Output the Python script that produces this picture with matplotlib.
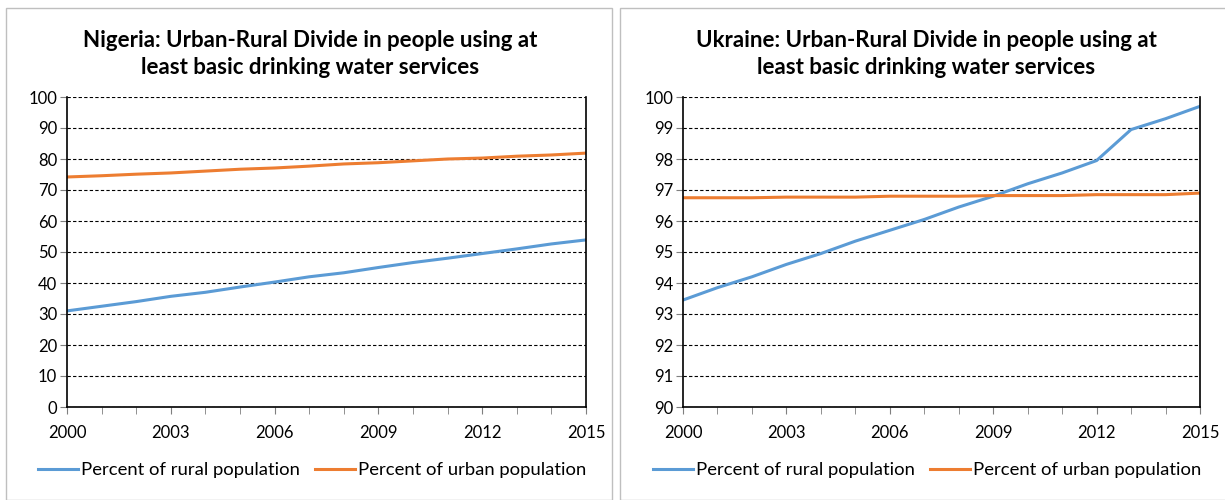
import matplotlib.pyplot as plt
from matplotlib.patches import Rectangle
from matplotlib.ticker import MultipleLocator

years = list(range(2000, 2016))

nigeria_rural = [31.0, 32.5, 34.0, 35.7, 37.0, 38.7, 40.3, 42.0, 43.3, 45.0, 46.6, 48.0, 49.5, 51.0, 52.6, 53.9]
nigeria_urban = [74.2, 74.6, 75.1, 75.5, 76.1, 76.7, 77.1, 77.7, 78.4, 78.8, 79.4, 80.0, 80.3, 80.9, 81.3, 81.9]

ukraine_rural = [93.45, 93.85, 94.2, 94.6, 94.95, 95.35, 95.7, 96.05, 96.45, 96.8, 97.2, 97.55, 97.95, 98.95, 99.3, 99.7]
ukraine_urban = [96.75, 96.75, 96.75, 96.77, 96.77, 96.77, 96.8, 96.8, 96.8, 96.82, 96.82, 96.82, 96.85, 96.85, 96.85, 96.9]

titles = ["Nigeria: Urban-Rural Divide in people using at\nleast basic drinking water services",
          "Ukraine: Urban-Rural Divide in people using at\nleast basic drinking water services"]
labels = ["Percent of rural population", "Percent of urban population"]

blue = "#5B9BD5"
orange = "#ED7D31"

plt.rcParams['font.family'] = ['Lato', 'DejaVu Sans']

fig = plt.figure(figsize=(12.25, 5), dpi=100)
W, H = 1225, 500

# panel frames
fig.patches.append(Rectangle((6 / W, 0), 606 / W, 1 - 8 / H, transform=fig.transFigure,
                             fill=False, edgecolor="#bfbfbf", lw=1))
fig.patches.append(Rectangle((620 / W, 0), 620 / W, 1 - 8 / H, transform=fig.transFigure,
                             fill=False, edgecolor="#bfbfbf", lw=1))

panels = [
    (67, 586, nigeria_rural, nigeria_urban, (0, 100), 10, 310, 312),
    (683, 1200, ukraine_rural, ukraine_urban, (90, 100), 1, 926, 927),
]

for i, (x0, x1, rural, urban, ylim, step, cx, lx) in enumerate(panels):
    ax = fig.add_axes([x0 / W, 1 - 407 / H, (x1 - x0) / W, 310 / H])
    ax.plot(years, rural, color=blue, lw=2.2, label=labels[0])
    ax.plot(years, urban, color=orange, lw=2.2, label=labels[1])
    ax.set_xlim(2000, 2015)
    ax.set_ylim(*ylim)
    ax.yaxis.set_major_locator(MultipleLocator(step))
    ax.set_xticks(range(2000, 2016, 3))
    ax.xaxis.set_minor_locator(MultipleLocator(1))
    ax.grid(axis='y', color='black', linestyle=(0, (3, 2)), lw=0.8)
    ax.set_axisbelow(True)
    ax.spines['top'].set_visible(False)
    for s in ['left', 'bottom', 'right']:
        ax.spines[s].set_color('black')
        ax.spines[s].set_linewidth(1.2)
    ax.tick_params(axis='both', which='both', direction='out', color='#7f7f7f', labelsize=12)
    ax.tick_params(axis='x', which='both', length=5, pad=8)
    ax.tick_params(axis='y', length=5, pad=2)
    ax.tick_params(right=False)
    fig.text(cx / W, 1 - 54 / H, titles[i], ha='center', va='center', fontsize=16,
             fontweight='bold', linespacing=1.3)
    fig.legend(*ax.get_legend_handles_labels(), loc='center', bbox_to_anchor=(lx / W, 1 - 470 / H),
               ncol=2, frameon=False, fontsize=13.3, handlelength=2.2, handletextpad=0.15,
               columnspacing=0.8, borderpad=0, borderaxespad=0)

fig.savefig("out.png", dpi=100)
